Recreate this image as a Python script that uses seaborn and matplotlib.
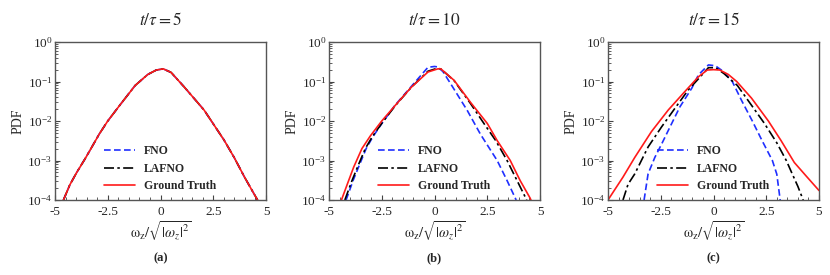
"""
Vorticity PDF comparison: FNO / LAFNO vs ground truth at three times.
"""

import matplotlib

matplotlib.use("Agg")
import matplotlib.pyplot as plt
import seaborn as sns
from matplotlib.ticker import MultipleLocator, LogLocator, NullFormatter

# ---- data ----
TITLES = [r"$t/\tau = 5$", r"$t/\tau = 10$", r"$t/\tau = 15$"]
PANEL_TAGS = ["(a)", "(b)", "(c)"]

# (a) t/tau = 5 : all three curves lie on top of each other
gt_a_x = [-4.6, -4.3, -3.97, -3.6, -3.33, -2.9, -2.5, -1.9, -1.2, -0.6, -0.2, 0.13,
          0.5, 1.11, 2.06, 3.01, 3.5, 3.97, 4.3, 4.6]
gt_a_y = [1e-4, 2.4e-4, 5e-4, 1.05e-3, 1.86e-3, 4.7e-3, 0.01, 0.0263, 0.0794, 0.151, 0.195, 0.209,
          0.170, 0.0741, 0.0191, 0.0033, 1.17e-3, 3.9e-4, 1.9e-4, 1e-4]
fno_a_x, fno_a_y = gt_a_x, gt_a_y
lafno_a_x, lafno_a_y = gt_a_x, gt_a_y

# (b) t/tau = 10
gt_b_x = [-4.41, -4.1, -3.83, -3.44, -3.04, -2.5, -1.87, -1.09, -0.31, 0.16, 0.3,
          0.93, 1.71, 2.5, 2.97, 3.59, 4.06, 4.53, 4.57]
gt_b_y = [1e-4, 2.8e-4, 6.8e-4, 2e-3, 4.2e-3, 0.01, 0.0245, 0.0724, 0.174, 0.209, 0.209,
          0.107, 0.0295, 0.0087, 0.0032, 1e-3, 3.1e-4, 1.12e-4, 1e-4]
fno_b_x = [-4.19, -3.85, -3.55, -3.24, -2.92, -2.48, -1.87, -1.09, -0.31, 0.0, 0.15,
           0.4, 0.77, 1.56, 2.18, 2.97, 3.44, 3.87]
fno_b_y = [1e-4, 3.2e-4, 7.9e-4, 2e-3, 4e-3, 8.9e-3, 0.0251, 0.0759, 0.229, 0.240, 0.234,
           0.178, 0.087, 0.0182, 0.0046, 1e-3, 3.1e-4, 1e-4]
lafno_b_x = [-4.25, -3.9, -3.6, -3.28, -2.95, -2.5, -1.87, -1.09, -0.31, 0.1, 0.3,
             0.93, 1.71, 2.34, 2.9, 3.44, 3.9, 4.37]
lafno_b_y = [1e-4, 3.2e-4, 7.9e-4, 2e-3, 4e-3, 8.7e-3, 0.024, 0.0724, 0.182, 0.214, 0.209,
             0.105, 0.0275, 0.0087, 0.0032, 1e-3, 3.2e-4, 1e-4]

# (c) t/tau = 15
gt_c_x = [-5.0, -4.29, -3.73, -2.94, -2.14, -1.35, -0.71, -0.3, 0.0, 0.3, 0.7,
          1.1, 1.8, 2.6, 3.2, 3.83, 4.4, 5.0]
gt_c_y = [1e-4, 3.8e-4, 1.2e-3, 5.4e-3, 0.0191, 0.0562, 0.132, 0.195, 0.1995, 0.195, 0.151,
          0.1, 0.038, 0.01, 3.2e-3, 8.9e-4, 4e-4, 1.74e-4]
fno_c_x = [-3.29, -3.1, -2.78, -2.46, -2.06, -1.59, -1.03, -0.71, -0.24, 0.08, 0.4,
           0.89, 1.35, 1.84, 2.3, 2.79, 3.0, 3.16]
fno_c_y = [1e-4, 4.6e-4, 1.2e-3, 2.6e-3, 7.1e-3, 0.0229, 0.0676, 0.148, 0.263, 0.251, 0.1905,
           0.1, 0.0316, 0.01, 3.2e-3, 1e-3, 4.5e-4, 1e-4]
lafno_c_x = [-4.29, -4.05, -3.73, -3.1, -2.46, -1.83, -1.19, -0.71, -0.24, 0.1, 0.5,
             1.13, 1.8, 2.4, 3.0, 3.45, 3.7, 4.0, 4.25]
lafno_c_y = [1e-4, 2.5e-4, 4.6e-4, 2.2e-3, 7.1e-3, 0.0209, 0.0617, 0.1175, 0.224, 0.224, 0.158,
             0.0794, 0.0251, 8.9e-3, 2.8e-3, 1e-3, 5e-4, 2.2e-4, 1e-4]

PANELS = [
    ((fno_a_x, fno_a_y), (lafno_a_x, lafno_a_y), (gt_a_x, gt_a_y)),
    ((fno_b_x, fno_b_y), (lafno_b_x, lafno_b_y), (gt_b_x, gt_b_y)),
    ((fno_c_x, fno_c_y), (lafno_c_x, lafno_c_y), (gt_c_x, gt_c_y)),
]
LABELS = ["FNO", "LAFNO", "Ground Truth"]
COLORS = ["#1f2fff", "black", "#ff1a1a"]
STYLES = [(0, (4, 2)), (0, (6, 2, 1.5, 2)), "-"]

sns.set_theme(style="ticks")
plt.rcParams["font.family"] = ["Liberation Serif", "DejaVu Serif"]
plt.rcParams["mathtext.fontset"] = "stix"
plt.rcParams["axes.unicode_minus"] = False

fig = plt.figure(figsize=(8.3, 2.75), dpi=100)
lefts = [55 / 830, 329 / 830, 608 / 830]
width = 211 / 830
bottom = 1 - 200 / 275
height = 158 / 275

for i, left in enumerate(lefts):
    ax = fig.add_axes([left, bottom, width, height])
    for (xs, ys), lab, col, ls in zip(PANELS[i], LABELS, COLORS, STYLES):
        sns.lineplot(x=xs, y=ys, ax=ax, color=col, linestyle=ls, linewidth=1.2,
                     label=lab, sort=False)
    ax.set_yscale("log")
    ax.set_xlim(-5, 5)
    ax.set_ylim(1e-4, 1)
    ax.set_xticks([-5, -2.5, 0, 2.5, 5])
    ax.set_xticklabels(["-5", "-2.5", "0", "2.5", "5"])
    ax.xaxis.set_minor_locator(MultipleLocator(0.5))
    ax.yaxis.set_major_locator(LogLocator(base=10, numticks=10))
    ax.yaxis.set_minor_locator(LogLocator(base=10, subs=range(2, 10), numticks=10))
    ax.yaxis.set_minor_formatter(NullFormatter())
    ax.tick_params(which="both", direction="in", top=False, right=False,
                   labelsize=9.5, color="#444444")
    ax.tick_params(axis="x", pad=4)
    ax.tick_params(axis="y", pad=2)
    ax.tick_params(which="major", length=3.5, width=0.8)
    ax.tick_params(which="minor", length=2, width=0.6)
    for sp in ax.spines.values():
        sp.set_color("#555555")
        sp.set_linewidth(1.0)
    ax.set_ylabel("PDF", fontsize=10, labelpad=2)
    ax.set_xlabel(r"$\mathrm{\omega_z}/\sqrt{|\omega_z|^2}$", fontsize=10.5, labelpad=1)
    ax.set_title(TITLES[i], fontsize=12.5, pad=12)
    ax.text(0.5, -0.37, PANEL_TAGS[i], transform=ax.transAxes, ha="center",
            va="center", fontsize=9, fontweight="bold")
    ax.legend(loc="lower left", bbox_to_anchor=(0.23, 0.05), frameon=False,
              borderpad=0, borderaxespad=0,
              prop={"weight": "bold", "size": 8.5}, handlelength=2.7,
              handletextpad=0.7, labelspacing=0.45)

fig.savefig("out.png", dpi=100)
